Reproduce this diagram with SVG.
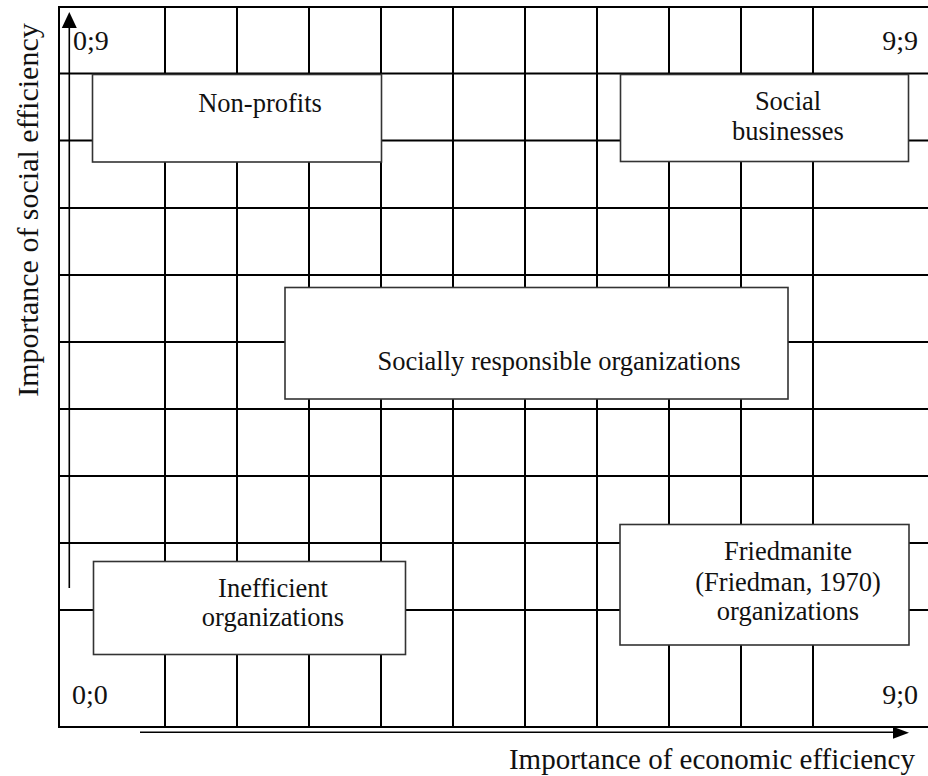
<svg xmlns="http://www.w3.org/2000/svg" width="928" height="776" viewBox="0 0 928 776">
  <style>
    .grid { stroke: #000; stroke-width: 2; fill: none; }
    .axis { stroke: #000; stroke-width: 1.6; fill: none; }
    .head { fill: #000; }
    .box { fill: #fff; stroke: #333; stroke-width: 1.6; }
    text { font-family: "Liberation Serif", "Times New Roman", serif; fill: #111; }
    .lbl { font-size: 26.5px; text-anchor: middle; }
    .corner { font-size: 28px; }
    .axlbl { font-size: 30px; }
  </style>

  <rect width="928" height="776" fill="#fff"/>

  <!-- 9x9 grid of the matrix -->
  <g id="grid" class="grid">
    <!-- outer frame (open on the right, runs to the edge) -->
    <path d="M928 7 H59 V727 H928"/>
    <!-- vertical rules -->
    <path d="M165 7 V727 M237 7 V727 M309 7 V727 M381 7 V727 M453 7 V727 M525 7 V727 M597 7 V727 M669 7 V727 M741 7 V727 M813 7 V727"/>
    <!-- horizontal rules -->
    <path d="M59 73.5 H928 M59 140.5 H928 M59 208 H928 M59 275 H928 M59 342 H928 M59 409 H928 M59 476 H928 M59 543 H928 M59 610 H928"/>
  </g>

  <!-- axes -->
  <g id="connectors">
    <line class="axis" x1="69.3" y1="588" x2="69.3" y2="24"/>
    <polygon class="head" points="69.3,12 61.8,28 76.8,28"/>
    <line class="axis" x1="140" y1="732.3" x2="896" y2="732.3"/>
    <polygon class="head" points="909,732.8 893,726.8 893,738.8"/>
  </g>

  <!-- corner coordinates -->
  <g id="corners">
    <text class="corner" x="73" y="50">0;9</text>
    <text class="corner" x="918" y="50" text-anchor="end">9;9</text>
    <text class="corner" x="72" y="704">0;0</text>
    <text class="corner" x="918" y="704" text-anchor="end">9;0</text>
  </g>

  <g id="non-profits">
    <rect class="box" x="92.5" y="74.5" width="289" height="87.5"/>
    <text class="lbl" x="260" y="111.5">Non-profits</text>
  </g>

  <g id="social-businesses">
    <rect class="box" x="620.5" y="74.5" width="288" height="87"/>
    <text class="lbl" x="788" y="109.5">Social</text>
    <text class="lbl" x="788" y="140">businesses</text>
  </g>

  <g id="socially-responsible">
    <rect class="box" x="285" y="287.5" width="503" height="111.5"/>
    <text class="lbl" x="559" y="370">Socially responsible organizations</text>
  </g>

  <g id="inefficient">
    <rect class="box" x="93.5" y="561.5" width="312" height="93"/>
    <text class="lbl" x="273" y="596.5">Inefficient</text>
    <text class="lbl" x="273" y="626">organizations</text>
  </g>

  <g id="friedmanite">
    <rect class="box" x="620" y="524.5" width="289" height="120.5"/>
    <text class="lbl" x="788" y="560">Friedmanite</text>
    <text class="lbl" x="788" y="591">(Friedman, 1970)</text>
    <text class="lbl" x="788" y="619.5">organizations</text>
  </g>

  <!-- axis titles -->
  <g id="axis-titles">
    <text class="axlbl" text-anchor="middle" transform="translate(37.5 210) rotate(-90)">Importance of social efficiency</text>
    <text class="axlbl" text-anchor="end" x="915" y="768.5" style="font-size:29px">Importance of economic efficiency</text>
  </g>
</svg>
